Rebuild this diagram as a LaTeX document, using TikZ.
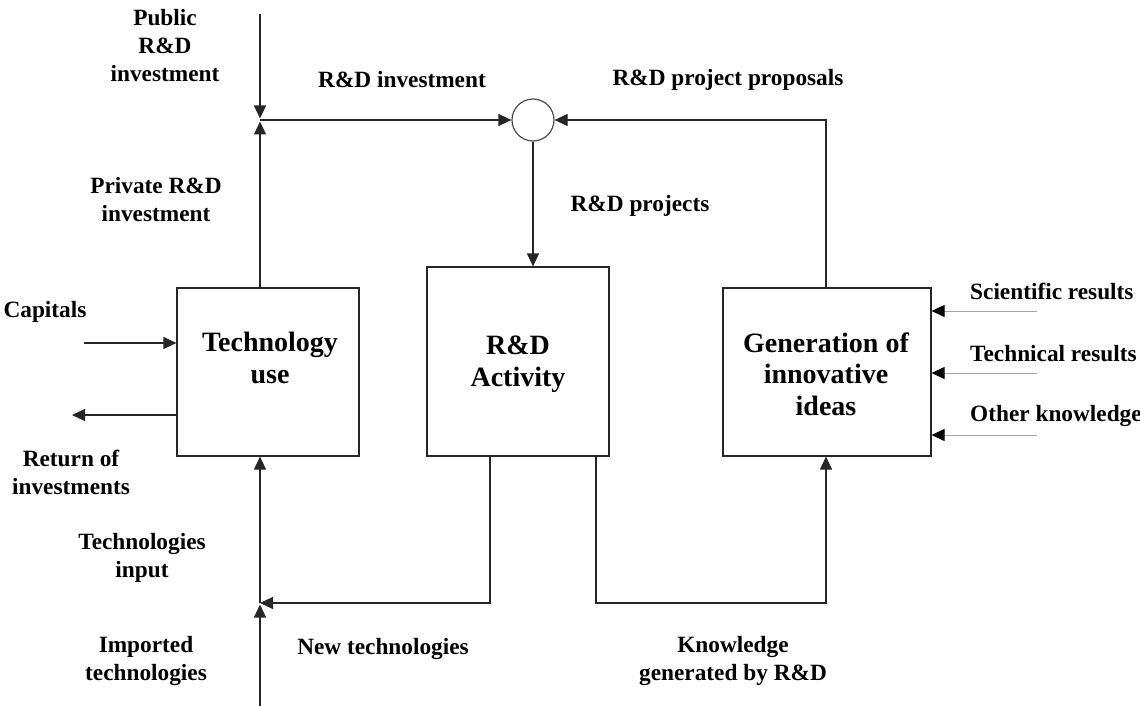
\documentclass[tikz,border=0pt]{standalone}
\usepackage{fontspec}
\setmainfont{Liberation Serif}
\usetikzlibrary{arrows.meta}
\begin{document}
\begin{tikzpicture}[x=1pt,y=-1pt,
  box/.style={draw=black!85,line width=1.2pt,rectangle,inner sep=0pt},
  arr/.style={draw=black!85,line width=1.2pt,-{Triangle[length=13pt,width=12pt]}},
  inarr/.style={draw=black!35,line width=1pt,-{Triangle[length=13pt,width=12pt,fill=black,color=black]}},
  lbl/.style={font=\fontsize{23.3}{28}\selectfont\bfseries,align=center,inner sep=0pt},
  big/.style={font=\fontsize{28}{31.5}\selectfont\bfseries,align=center,inner sep=0pt}]
\useasboundingbox (0,0) rectangle (1140,706);
% boxes
\node[box,minimum width=182pt,minimum height=168pt] (tech) at (268,372) {};
\node[box,minimum width=182pt,minimum height=189pt] (rd) at (518,361.5) {};
\node[box,minimum width=208pt,minimum height=168pt] (gen) at (827,372) {};
\node[draw=black!70,line width=1.2pt,circle,minimum size=42pt,inner sep=0pt] (circ) at (533,120) {};
\node[big] (techt) at (270,358) {Technology\\use};
\node[big] (rdt) at (518,364) {R\&D\\Activity};
\node[big] (gent) at (826,374) {Generation of\\innovative\\ideas};
% coordinates
\coordinate (pubtop) at (260,14);
\coordinate (j1) at (260,120);
\coordinate (g1) at (826,120);
\coordinate (capin) at (84,343);
\coordinate (ret) at (72,415);
\coordinate (j2) at (260,603);
\coordinate (imp) at (260,706);
\coordinate (rdl) at (490,603);
\coordinate (rdr) at (596,603);
\coordinate (gb) at (826,603);
\coordinate (s1) at (1037,311);
\coordinate (s2) at (1037,373);
\coordinate (s3) at (1037,435);
% connectors
\draw[arr,shorten >=1.5pt] (pubtop) -- (j1);
\draw[arr,shorten >=1.5pt] (j1 |- tech.north) -- (j1);
\draw[arr] (j1) -- (circ.west);
\draw[arr] (g1 |- gen.north) -- (g1) -- (circ.east);
\draw[arr] (circ.south) -- (circ.south |- rd.north);
\draw[arr] (capin) -- (capin -| tech.west);
\draw[arr] (ret -| tech.west) -- (ret);
\draw[arr,shorten >=1.5pt] (imp) -- (j2);
\draw[arr] (j2) -- (j2 |- tech.south);
\draw[arr] (rdl |- rd.south) -- (rdl) -- (j2);
\draw[arr] (rdr |- rd.south) -- (rdr) -- (gb) -- (gb |- gen.south);
\draw[inarr] (s1) -- (s1 -| gen.east);
\draw[inarr] (s2) -- (s2 -| gen.east);
\draw[inarr] (s3) -- (s3 -| gen.east);
% labels
\node[lbl] (pub) at (165,46) {Public\\R\&D\\investment};
\node[lbl] (rdinv) at (402,80) {R\&D investment};
\node[lbl] (prop) at (728,80) {R\&D project proposals};
\node[lbl] (priv) at (156,200) {Private R\&D\\investment};
\node[lbl] (proj) at (640,206) {R\&D projects};
\node[lbl] (cap) at (45,312) {Capitals};
\node[lbl] (retl) at (71,472) {Return of\\investments};
\node[lbl] (techin) at (142,558) {Technologies\\input};
\node[lbl] (impl) at (146,661) {Imported\\technologies};
\node[lbl] (newt) at (383,649) {New technologies};
\node[lbl] (know) at (733,661) {Knowledge\\generated by R\&D};
\node[lbl,anchor=west] (sci) at (970,291) {Scientific results};
\node[lbl,anchor=west] (tec) at (970,354) {Technical results};
\node[lbl,anchor=west] (oth) at (970,416) {Other knowledge};
\end{tikzpicture}
\end{document}
